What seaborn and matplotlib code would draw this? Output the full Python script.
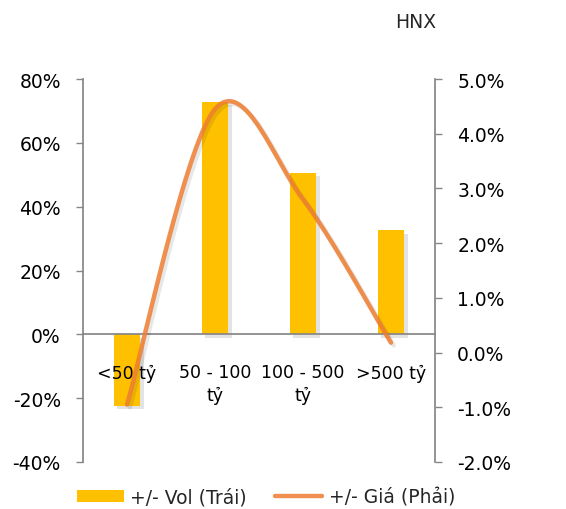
import numpy as np
import matplotlib
matplotlib.use("Agg")
import matplotlib.pyplot as plt
import matplotlib.patheffects as pe
from matplotlib.patches import Patch
from matplotlib.lines import Line2D
from matplotlib.ticker import MultipleLocator, FuncFormatter
import seaborn as sns

# Data (percent)
categories = ["<50 tỷ", "50 - 100\ntỷ", "100 - 500\ntỷ", ">500 tỷ"]
vol_change = [-22.4, 72.9, 50.7, 32.6]      # left axis
price_change = [-0.95, 4.45, 2.8, 0.18]     # right axis

BAR_COLOR = "#FFC000"
LINE_COLOR = "#ED7D31"
AXIS_GRAY = "#868686"
FS = 13.5


def smooth_curve(xv, yv, steps=40):
    # Excel-style smoothed line: Bezier with Catmull-Rom control points
    pts = np.column_stack([xv, yv]).astype(float)
    padded = np.vstack([pts[0], pts, pts[-1]])
    out = []
    t = np.linspace(0, 1, steps)[:, None]
    for i in range(len(pts) - 1):
        p0, p3 = padded[i + 1], padded[i + 2]
        c1 = p0 + (padded[i + 2] - padded[i]) / 6
        c2 = p3 - (padded[i + 3] - padded[i + 1]) / 6
        seg = ((1 - t) ** 3) * p0 + 3 * ((1 - t) ** 2) * t * c1 + 3 * (1 - t) * t ** 2 * c2 + t ** 3 * p3
        out.append(seg if i == 0 else seg[1:])
    out = np.vstack(out)
    return out[:, 0], out[:, 1]


sns.set_theme(style="white")
plt.rcParams["font.family"] = ["DejaVu Sans"]

fig = plt.figure(figsize=(5.66, 5.10), dpi=100)
ax = fig.add_axes([83 / 566, 1 - 463 / 510, 352 / 566, 383 / 510])
ax.set_axisbelow(False)

# Bars (left axis)
sns.barplot(x=categories, y=vol_change, color=BAR_COLOR, saturation=1,
            width=0.3, linewidth=0, ax=ax)
for p in ax.patches:
    p.set_path_effects([pe.SimplePatchShadow(offset=(2.5, -2.5), shadow_rgbFace="k", alpha=0.12),
                        pe.Normal()])

ax.set_xlim(-0.5, 3.5)
ax.set_ylim(-40, 80)
ax.yaxis.set_major_locator(MultipleLocator(20))
ax.yaxis.set_major_formatter(FuncFormatter(lambda v, _: f"{v:.0f}%"))
ax.set_xlabel("")
ax.set_ylabel("")
ax.spines["bottom"].set_position(("data", 0))
ax.spines["bottom"].set_color(AXIS_GRAY)
ax.spines["left"].set_color(AXIS_GRAY)
ax.spines["top"].set_visible(False)
ax.spines["right"].set_visible(False)
ax.tick_params(axis="x", bottom=False, length=0, pad=21, labelsize=12.5, labelcolor="black")
ax.tick_params(axis="y", left=True, direction="out", length=5, width=1,
               color=AXIS_GRAY, pad=11, labelsize=FS, labelcolor="black")
for lbl in ax.get_xticklabels():
    lbl.set_linespacing(1.3)

# Line (right axis)
ax2 = ax.twinx()
ax2.set_ylim(-2, 5)
ax2.yaxis.set_major_locator(MultipleLocator(1))
ax2.yaxis.set_major_formatter(FuncFormatter(lambda v, _: f"{v:.1f}%"))
for side in ["left", "top", "bottom"]:
    ax2.spines[side].set_visible(False)
ax2.spines["right"].set_color(AXIS_GRAY)
ax2.tick_params(axis="y", right=True, direction="out", length=5, width=1,
                color=AXIS_GRAY, pad=11, labelsize=FS, labelcolor="black")

xs, ys = smooth_curve(np.arange(len(categories)), price_change)
ax2.plot(xs, ys, color=LINE_COLOR, lw=3.2, alpha=0.85, solid_capstyle="round",
         path_effects=[pe.SimpleLineShadow(offset=(2, -2), shadow_color="k", alpha=0.1),
                       pe.Normal()])

fig.text(416 / 566, 1 - 23 / 510, "HNX", ha="center", va="center", fontsize=FS)

handles = [Patch(facecolor=BAR_COLOR, edgecolor="none"),
           Line2D([], [], color=LINE_COLOR, lw=3.2, alpha=0.85)]
fig.legend(handles, ["+/- Vol (Trái)", "+/- Giá (Phải)"], loc="center",
           bbox_to_anchor=(266 / 566, 1 - 498 / 510), ncol=2, frameon=False,
           handlelength=2.5, handleheight=0.6, handletextpad=0.35,
           columnspacing=1.5, fontsize=FS)

fig.savefig("out.png", dpi=100)
